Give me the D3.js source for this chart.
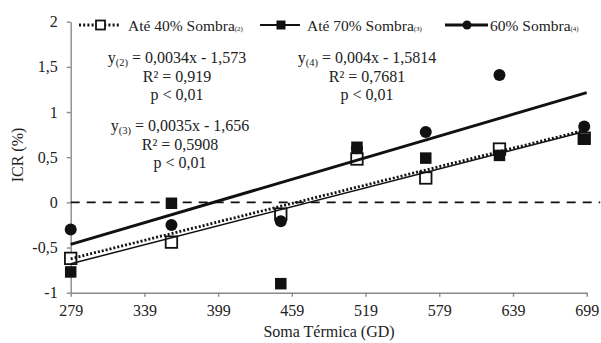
<!doctype html>
<html>
<head>
<meta charset="utf-8">
<script src="https://cdnjs.cloudflare.com/ajax/libs/d3/7.8.5/d3.min.js"></script>
<style>
  body { margin: 0; background: #fff; }
  svg text { font-family: "Liberation Serif", "Times New Roman", serif; fill: #222; }
  .axis path, .axis line { stroke: #8a8a8a; stroke-width: 1.4; }
  .axis text { font-size: 16px; }
</style>
</head>
<body>
<script>
// data
var somaTermica = [279, 361, 450, 512, 568, 628, 697];
var ate40 = [-0.62, -0.44, -0.13, 0.48, 0.27, 0.59, 0.71];
var ate70 = [-0.77, -0.01, -0.90, 0.61, 0.49, 0.52, 0.70];
var sombra60 = [-0.30, -0.25, -0.21, 0.60, 0.78, 1.41, 0.84];
var xTicks = [279, 339, 399, 459, 519, 579, 639, 699];
var yTicks = [-1, -0.5, 0, 0.5, 1, 1.5, 2];
// regression coefficients [slope, intercept] as printed
var reg40 = [0.0034, -1.573];
var reg70 = [0.0035, -1.656];
var reg60 = [0.004, -1.5814];

var width = 601, height = 343;
var svg = d3.select('body').append('svg')
    .attr('width', width).attr('height', height);

var x = d3.scaleLinear().domain([279, 699]).range([70.7, 586.7]);
var y = d3.scaleLinear().domain([-1, 2]).range([292.7, 21.7]);
var fmt = function(d){ return String(d).replace('.', ','); };

// axes
svg.append('g').attr('class', 'axis')
    .attr('transform', 'translate(0,292.7)')
    .call(d3.axisBottom(x).tickValues(xTicks).tickSize(4).tickSizeOuter(0).tickPadding(8));
svg.append('g').attr('class', 'axis')
    .attr('transform', 'translate(70.7,0)')
    .call(d3.axisLeft(y).tickValues(yTicks).tickSize(4).tickSizeOuter(0).tickPadding(9).tickFormat(fmt));

// zero reference
svg.append('line')
    .attr('x1', x(279)).attr('x2', x(710))
    .attr('y1', y(0)).attr('y2', y(0))
    .attr('stroke', '#111').attr('stroke-width', 1.6)
    .attr('stroke-dasharray', '9,7');

// markers
var pts = function(arr){ return arr.map(function(v, i){ return [somaTermica[i], v]; }); };
var sq = 11.5;
svg.append('g').selectAll('rect').data(pts(ate40)).enter().append('rect')
    .attr('x', function(d){ return x(d[0]) - sq/2; })
    .attr('y', function(d){ return y(d[1]) - sq/2; })
    .attr('width', sq).attr('height', sq)
    .attr('fill', '#fff').attr('stroke', '#111').attr('stroke-width', 1.8);
svg.append('g').selectAll('circle').data(pts(sombra60)).enter().append('circle')
    .attr('cx', function(d){ return x(d[0]); })
    .attr('cy', function(d){ return y(d[1]); })
    .attr('r', 6).attr('fill', '#111');
svg.append('g').selectAll('rect').data(pts(ate70)).enter().append('rect')
    .attr('x', function(d){ return x(d[0]) - sq/2; })
    .attr('y', function(d){ return y(d[1]) - sq/2; })
    .attr('width', sq).attr('height', sq)
    .attr('fill', '#111');

// trend lines
function trend(c, sw, dash){
    svg.append('line')
        .attr('x1', x(279)).attr('x2', x(699))
        .attr('y1', y(c[0]*279 + c[1])).attr('y2', y(c[0]*699 + c[1]))
        .attr('stroke', '#111').attr('stroke-width', sw)
        .attr('stroke-dasharray', dash);
}
trend(reg70, 1.5, null);
trend(reg40, 2.8, '2,2');
trend(reg60, 3, null);

// legend
var leg = svg.append('g');
var ly = 25;
leg.append('line').attr('x1', 79).attr('x2', 119).attr('y1', ly).attr('y2', ly)
    .attr('stroke', '#111').attr('stroke-width', 2.8).attr('stroke-dasharray', '2,2.2');
leg.append('rect').attr('x', 100.5 - 4.5).attr('y', ly - 4.5).attr('width', 9).attr('height', 9)
    .attr('fill', '#fff').attr('stroke', '#111').attr('stroke-width', 1.8);
leg.append('line').attr('x1', 260).attr('x2', 300).attr('y1', ly).attr('y2', ly)
    .attr('stroke', '#111').attr('stroke-width', 2);
leg.append('rect').attr('x', 281 - 4.5).attr('y', ly - 4.5).attr('width', 9).attr('height', 9)
    .attr('fill', '#111');
leg.append('line').attr('x1', 445).attr('x2', 488).attr('y1', ly).attr('y2', ly)
    .attr('stroke', '#111').attr('stroke-width', 3);
leg.append('circle').attr('cx', 467).attr('cy', ly).attr('r', 4.5).attr('fill', '#111');

var legTexts = [[128, 'Até 40% Sombra', '(2)'], [307, 'Até 70% Sombra', '(3)'], [490, '60% Sombra', '(4)']];
legTexts.forEach(function(t){
    var tx = leg.append('text').attr('x', t[0]).attr('y', 30.5).style('font-size', '15.5px');
    tx.append('tspan').text(t[1]);
    tx.append('tspan').style('font-size', '7px').text(t[2]);
});

// equations
function block(cx, y0, sub, eq, r2){
    var g = svg.append('g');
    var t1 = g.append('text').attr('x', cx).attr('y', y0).attr('text-anchor', 'middle').style('font-size', '16px');
    t1.append('tspan').text('y');
    t1.append('tspan').attr('dy', 3).style('font-size', '10.5px').text(sub);
    t1.append('tspan').attr('dy', -3).text(eq);
    g.append('text').attr('x', cx).attr('y', y0 + 18.5).attr('text-anchor', 'middle').style('font-size', '16px').text(r2);
    g.append('text').attr('x', cx).attr('y', y0 + 37).attr('text-anchor', 'middle').style('font-size', '16px').text('p < 0,01');
}
block(177, 63, '(2)', ' = 0,0034x - 1,573', 'R² = 0,919');
block(367, 63, '(4)', ' = 0,004x - 1,5814', 'R² = 0,7681');
block(180, 131, '(3)', ' = 0,0035x - 1,656', 'R² = 0,5908');

// axis titles
svg.append('text').attr('x', 329).attr('y', 337).attr('text-anchor', 'middle')
    .style('font-size', '16px').text('Soma Térmica (GD)');
svg.append('text').attr('transform', 'translate(23,155) rotate(-90)').attr('text-anchor', 'middle')
    .style('font-size', '16px').text('ICR (%)');
</script>
</body>
</html>
